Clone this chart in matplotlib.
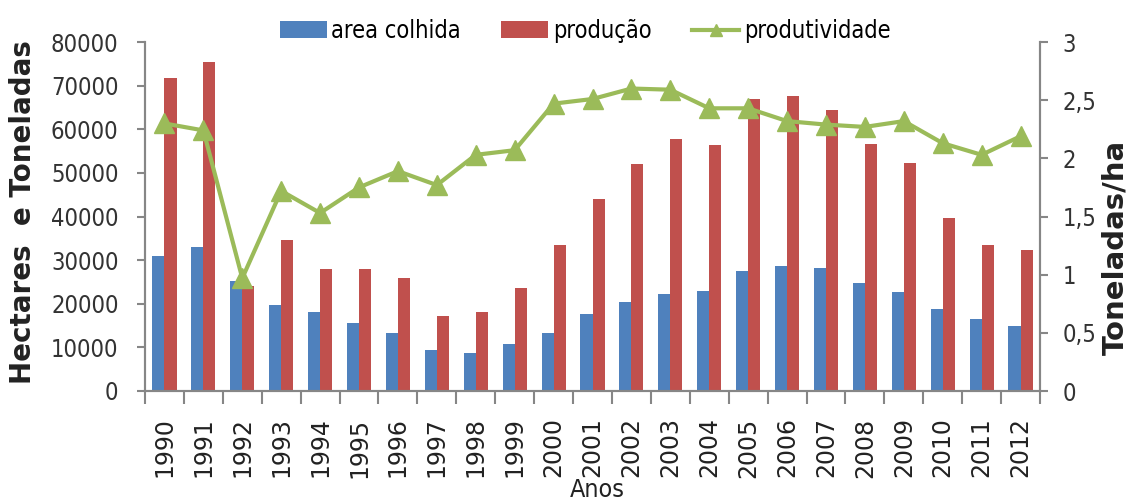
import matplotlib
matplotlib.use("Agg")
import matplotlib.pyplot as plt
from matplotlib.ticker import FixedLocator, FuncFormatter
from matplotlib.font_manager import FontProperties
import numpy

anos = [str(a) for a in range(1990, 2013)]

# hectares
area_colhida = [30900, 33000, 25200, 19700, 18000, 15700, 13400, 9400, 8700, 10700,
                13400, 17600, 20300, 22300, 22900, 27500, 28600, 28100, 24800, 22700,
                18700, 16500, 14900]
# toneladas
producao = [71700, 75400, 24000, 34500, 27900, 27900, 26000, 17200, 18000, 23500,
            33400, 44100, 52100, 57700, 56300, 67000, 67700, 64500, 56600, 52300,
            39700, 33400, 32300]
# toneladas/ha
produtividade = [2.30, 2.24, 0.97, 1.72, 1.53, 1.75, 1.89, 1.77, 2.03, 2.07,
                 2.47, 2.51, 2.60, 2.59, 2.43, 2.43, 2.32, 2.29, 2.27, 2.32,
                 2.13, 2.03, 2.19]

AZUL = "#4F81BD"
VERMELHO = "#C0504D"
VERDE = "#9BBB59"
CINZA = "#868686"

def fonte_estreita(size):
    return FontProperties(family="DejaVu Sans", stretch="condensed", size=size)

fig = plt.figure(figsize=(11.28, 5.04), dpi=100)
ax = fig.add_axes((145 / 1128, 1 - 391 / 504, (1040 - 145) / 1128, (391 - 42) / 504))
ax2 = ax.twinx()

x = numpy.arange(len(anos))
largura = 0.31
ax.bar(x - largura / 2, area_colhida, largura, color=AZUL, label="area colhida", zorder=2)
ax.bar(x + largura / 2, producao, largura, color=VERMELHO, label="produção", zorder=2)
ax2.plot(x, produtividade, color=VERDE, linewidth=3, marker="^", markersize=15,
         label="produtividade", zorder=3)

ax.set_xlim(-0.5, len(anos) - 0.5)
ax.set_ylim(0, 80000)
ax2.set_ylim(0, 3)

ax.set_yticks(numpy.arange(0, 80001, 10000))
ax2.set_yticks(numpy.arange(0, 3.01, 0.5))
ax2.yaxis.set_major_formatter(FuncFormatter(lambda v, p: ("%g" % v).replace(".", ",")))

ax.set_xticks(x)
ax.set_xticklabels(anos, rotation=90, fontsize=17, color="#222222")
ax.xaxis.set_minor_locator(FixedLocator(numpy.arange(-0.5, len(anos), 1)))
ax.tick_params(axis="x", which="major", length=0, pad=19)
ax.tick_params(axis="x", which="minor", length=9, color=CINZA, width=1.5)

ax.tick_params(axis="y", length=6, color=CINZA, width=1.5, pad=13, labelcolor="#333333")
ax2.tick_params(axis="y", length=6, color=CINZA, width=1.5, pad=10, labelcolor="#333333")
for lbl in ax.get_yticklabels() + ax2.get_yticklabels():
    lbl.set_fontproperties(fonte_estreita(17))

for a in (ax, ax2):
    a.spines["top"].set_visible(False)
    for s in ("left", "right", "bottom"):
        a.spines[s].set_color(CINZA)
        a.spines[s].set_linewidth(1.5)

fig.text(23 / 1128, 1 - 212 / 504, "Hectares  e Toneladas", rotation=90, ha="center", va="center",
         fontsize=20, fontweight="bold", color="#222222")
fig.text(1115 / 1128, 1 - 247 / 504, "Toneladas/ha", rotation=90, ha="center", va="center",
         fontsize=21, fontweight="bold", color="#222222")
fig.text(597 / 1128, 1 - 490 / 504, "Anos", ha="center", va="center",
         fontproperties=fonte_estreita(18), color="#222222")

handles = ax.get_legend_handles_labels()[0] + ax2.get_legend_handles_labels()[0]
labels = ["area colhida", "produção", "produtividade"]
fig.legend(handles, labels, loc="center", bbox_to_anchor=(585 / 1128, 1 - 31 / 504), ncol=3,
           frameon=False, prop=fonte_estreita(17), handlelength=2.0,
           handletextpad=0.2, columnspacing=1.7, markerscale=0.6)

fig.savefig("out.png", dpi=100, facecolor="white")
